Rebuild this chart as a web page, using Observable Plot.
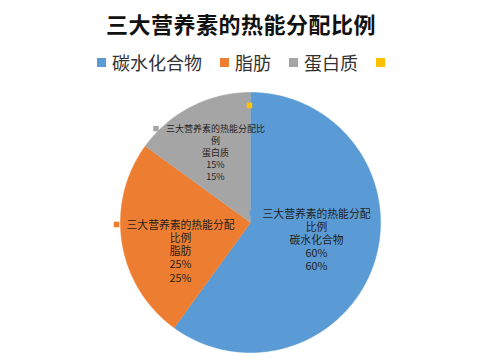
<!DOCTYPE html>
<html><head><meta charset="utf-8">
<script src="https://cdn.jsdelivr.net/npm/d3@7"></script>
<script src="https://cdn.jsdelivr.net/npm/@observablehq/plot@0.6"></script>
<style>
html,body{margin:0;padding:0;background:#fff}
body{width:482px;height:358px;overflow:hidden;font-family:"Noto Sans CJK SC","Noto Sans",sans-serif}
#title{height:46px;line-height:46px;text-align:center;font-size:22px;font-weight:bold;color:#111;letter-spacing:0.5px;white-space:nowrap}
#legend{height:32px;display:flex;justify-content:center;align-items:center;font-size:18px;color:#333;white-space:nowrap}
.item{display:flex;align-items:center;margin:0 9px}
.sw{width:9px;height:9px;display:inline-block}
.lab{margin-left:6px;line-height:20px}
#chart svg{display:block}
</style></head><body>
<div id="title"></div>
<div id="legend"></div>
<div id="chart"></div>
<script>
// ---- data ----
const chartTitle = "三大营养素的热能分配比例";
const categories = ["碳水化合物", "脂肪", "蛋白质", ""];
const values = [60, 25, 15, 0];
const colors = ["#5B9BD5", "#ED7D31", "#A5A5A5", "#FFC000"];

// ---- layout (not data) ----
const W = 482, H = 280, R = 130, CX = 250, CY = 144;
const labelLayout = {
  "碳水化合物": {f: 0.53, nx: 0.5, ny: -4.3, fs: 10.8, lh: 13, wrap: 10},
  "脂肪":       {f: 0.58, nx: 4.5, ny: 16.7, fs: 10.8, lh: 13.25, wrap: 10},
  "蛋白质":     {f: 0.60, nx: 0.4, ny: -0.4, fs: 9, lh: 12, wrap: 11},
  "":           {f: 0.90, nx: -1, ny: 0, fs: 9, lh: 12, wrap: 11}
};
const markerGap = 10;

document.getElementById("title").textContent = chartTitle;

const rows = categories.map((name, i) => ({name, value: values[i]}));
const arcs = d3.pie().sort(null).value(d => d.value)(rows);
const total = d3.sum(values);

// slice polygons (unit circle, y up)
const slicePts = [];
for (const a of arcs) {
  if (a.endAngle - a.startAngle <= 0) continue;
  const n = Math.max(2, Math.ceil((a.endAngle - a.startAngle) / (Math.PI / 360)));
  slicePts.push({name: a.data.name, x: 0, y: 0});
  for (let i = 0; i <= n; i++) {
    const t = a.startAngle + (a.endAngle - a.startAngle) * i / n;
    slicePts.push({name: a.data.name, x: Math.sin(t), y: Math.cos(t)});
  }
}

// labels
const labels = [], markers = [];
for (const a of arcs) {
  const L = labelLayout[a.data.name];
  const mid = (a.startAngle + a.endAngle) / 2;
  const x = Math.sin(mid) * L.f + L.nx / R;
  const y = Math.cos(mid) * L.f - L.ny / R;
  const pct = Math.round(a.value / total * 100) + "%";
  let lines = [];
  if (a.data.name !== "") {
    lines = [chartTitle.slice(0, L.wrap), chartTitle.slice(L.wrap), a.data.name, a.data.value + "%", pct];
    labels.push({name: a.data.name, x, y, text: lines.join("\n"), fs: L.fs, lh: L.lh});
    const firstW = lines[0].length * L.fs;
    markers.push({name: a.data.name,
      x: x - (firstW / 2 + markerGap) / R,
      y: y + ((lines.length - 1) / 2 * L.lh) / R});
  } else {
    markers.push({name: a.data.name, x, y});
  }
}

const textMarks = labels.map(l => Plot.text([l], {
  x: "x", y: "y", text: "text", fontSize: l.fs, lineHeight: l.lh / l.fs,
  lineAnchor: "middle", textAnchor: "middle", fill: "#1f1f1f",
  fontFamily: '"Noto Sans CJK SC", sans-serif'
}));

const plot = Plot.plot({
  width: W, height: H, margin: 0,
  style: {background: "#fff", fontFamily: '"Noto Sans CJK SC", sans-serif'},
  x: {domain: [-1, 1], range: [CX - R, CX + R], axis: null},
  y: {domain: [-1, 1], range: [CY + R, CY - R], axis: null},
  color: {domain: categories, range: colors},
  marks: [
    Plot.line(slicePts, {x: "x", y: "y", z: "name", fill: "name", stroke: "name", strokeWidth: 0.6, curve: "linear"}),
    Plot.dot(markers, {x: "x", y: "y", fill: "name", symbol: "square", r: 3.1, stroke: null}),
    ...textMarks
  ]
});
document.getElementById("chart").appendChild(plot);

// legend from the plot's color scale
const cs = plot.scale("color");
const leg = document.getElementById("legend");
cs.domain.forEach((d, i) => {
  const it = document.createElement("div"); it.className = "item";
  const sw = document.createElement("span"); sw.className = "sw"; sw.style.background = cs.range[i];
  it.appendChild(sw);
  if (d !== "") {
    const lb = document.createElement("span"); lb.className = "lab"; lb.textContent = d;
    it.appendChild(lb);
  }
  leg.appendChild(it);
});
</script>
</body></html>
